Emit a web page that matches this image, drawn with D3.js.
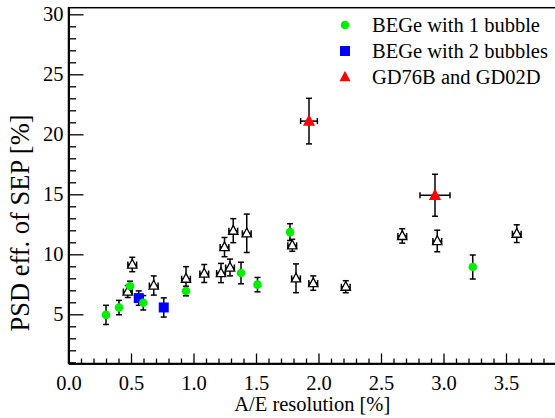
<!DOCTYPE html>
<html><head><meta charset="utf-8">
<script src="https://cdn.jsdelivr.net/npm/d3@7"></script>
<style>
html,body{margin:0;padding:0;background:#fff;}
svg{display:block;}
</style></head>
<body>
<svg id="chart" width="555" height="418" font-family="Liberation Serif"></svg>
<script>
// ---- data ----
const greenX   = [0.30, 0.404, 0.492, 0.598, 0.94, 1.38, 1.512, 1.772, 3.234];
const greenY   = [4.95, 5.56, 7.36, 5.96, 6.94, 8.44, 7.47, 11.85, 8.94];
const greenErr = [0.8, 0.6, 0.4, 0.6, 0.4, 0.9, 0.6, 0.7, 1.0];

const blueX   = [0.562, 0.762];
const blueY   = [6.35, 5.57];
const blueErr = [0.6, 0.8];

const redX    = [1.924, 2.932];
const redY    = [21.1, 14.92];
const redYErr = [1.9, 1.75];
const redXErr = [0.067, 0.12];

const openX   = [0.474, 0.51, 0.682, 0.94, 1.086, 1.22, 1.292, 1.248, 1.318, 1.426, 1.79, 1.82, 1.958, 2.218, 2.67, 2.95, 3.586];
const openY   = [6.9, 9.15, 7.4, 7.97, 8.4, 8.44, 8.9, 10.6, 11.97, 11.75, 10.75, 8.0, 7.6, 7.3, 11.53, 11.11, 11.72];
const openErr = [0.5, 0.6, 0.8, 1.0, 0.75, 0.8, 0.7, 0.8, 1.0, 1.6, 0.5, 1.2, 0.6, 0.5, 0.6, 0.9, 0.74];
const openXErr = 0.035;

const xMajor = [0, 0.5, 1.0, 1.5, 2.0, 2.5, 3.0, 3.5];
const yMajor = [5, 10, 15, 20, 25, 30];
const legendLabels = ["BEGe with 1 bubble", "BEGe with 2 bubbles", "GD76B and GD02D"];
const xTitle = "A/E resolution [%]";
const yTitle = "PSD eff. of SEP [%]";

// ---- layout ----
const FONT = "Liberation Serif";
const svg = d3.select("#chart");
const L = 68.5, R = 556, T = 7.7, B = 363.5;
const x = d3.scaleLinear().domain([0, 3.9]).range([L, R]);
const y = d3.scaleLinear().domain([0.9, 30.55]).range([B, T]);
const FS = 20.5;

// frame
svg.append("rect").attr("x", L).attr("y", T).attr("width", R - L).attr("height", B - T)
  .attr("fill", "none").attr("stroke", "#000").attr("stroke-width", 1.5);

// x axis
const xMinor = d3.range(1, 39).map(i => i / 10).filter(v => Math.abs(v * 2 - Math.round(v * 2)) > 1e-6);
const gx = svg.append("g").attr("transform", `translate(0,${B})`);
gx.call(d3.axisBottom(x).tickValues(xMajor).tickFormat(d3.format(".1f")).tickSizeInner(-10).tickSizeOuter(0).tickPadding(12));
gx.append("g").call(d3.axisBottom(x).tickValues(xMinor).tickFormat("").tickSizeInner(-5).tickSizeOuter(0));
gx.selectAll(".domain").attr("stroke-width", 1.5);
gx.selectAll("line").attr("stroke-width", 1.3);
gx.attr("font-family", FONT).attr("font-size", FS);
gx.selectAll("g").attr("font-family", FONT).attr("font-size", FS);
gx.selectAll("text").attr("font-family", FONT).attr("font-size", FS);

// y axis
const yMinor = d3.range(1, 31).filter(v => v % 5 !== 0);
const gy = svg.append("g").attr("transform", `translate(${L},0)`);
gy.call(d3.axisLeft(y).tickValues(yMajor).tickFormat(d3.format("d")).tickSizeInner(-15).tickSizeOuter(0).tickPadding(5));
gy.append("g").call(d3.axisLeft(y).tickValues(yMinor).tickFormat("").tickSizeInner(-7.5).tickSizeOuter(0));
gy.selectAll(".domain").attr("stroke-width", 1.5);
gy.selectAll("line").attr("stroke-width", 1.3);
gy.attr("font-family", FONT).attr("font-size", FS);
gy.selectAll("g").attr("font-family", FONT).attr("font-size", FS);
gy.selectAll("text").attr("font-family", FONT).attr("font-size", FS);

// titles
svg.append("text").attr("x", (L + R) / 2).attr("y", 411).attr("text-anchor", "middle")
  .attr("font-family", FONT).attr("font-size", FS).text(xTitle);
svg.append("text").attr("transform", `translate(29,${223}) rotate(-90)`)
  .attr("text-anchor", "middle").attr("font-family", FONT).attr("font-size", 26.5).text(yTitle);

// ---- error bars helper ----
const eb = svg.append("g").attr("stroke", "#000").attr("stroke-width", 1.5).attr("fill", "none");
function vErr(xv, yv, e) {
  const cx = x(xv), y1 = y(yv - e), y2 = y(yv + e), c = 3;
  eb.append("line").attr("x1", cx).attr("x2", cx).attr("y1", y1).attr("y2", y2);
  eb.append("line").attr("x1", cx - c).attr("x2", cx + c).attr("y1", y1).attr("y2", y1);
  eb.append("line").attr("x1", cx - c).attr("x2", cx + c).attr("y1", y2).attr("y2", y2);
}
function hErr(xv, yv, e) {
  const cy = y(yv), x1 = x(xv - e), x2 = x(xv + e), c = 3;
  eb.append("line").attr("x1", x1).attr("x2", x2).attr("y1", cy).attr("y2", cy);
  eb.append("line").attr("x1", x1).attr("x2", x1).attr("y1", cy - c).attr("y2", cy + c);
  eb.append("line").attr("x1", x2).attr("x2", x2).attr("y1", cy - c).attr("y2", cy + c);
}

openX.forEach((v, i) => { vErr(v, openY[i], openErr[i]); hErr(v, openY[i], openXErr); });
greenX.forEach((v, i) => vErr(v, greenY[i], greenErr[i]));
blueX.forEach((v, i) => vErr(v, blueY[i], blueErr[i]));
redX.forEach((v, i) => { vErr(v, redY[i], redYErr[i]); hErr(v, redY[i], redXErr[i]); });

// ---- markers ----
const tri = s => `M0,${-s * 0.62}L${s * 0.55},${s * 0.42}L${-s * 0.55},${s * 0.42}Z`;
const mk = svg.append("g");
mk.selectAll(".open").data(openX).join("path")
  .attr("transform", (d, i) => `translate(${x(d)},${y(openY[i])})`)
  .attr("d", tri(8.5)).attr("fill", "#fff").attr("stroke", "#000").attr("stroke-width", 1.3);
mk.selectAll(".blue").data(blueX).join("rect")
  .attr("x", (d) => x(d) - 5).attr("y", (d, i) => y(blueY[i]) - 5)
  .attr("width", 10).attr("height", 10).attr("fill", "#0000ff");
mk.selectAll(".green").data(greenX).join("circle")
  .attr("cx", d => x(d)).attr("cy", (d, i) => y(greenY[i])).attr("r", 4.3).attr("fill", "#00ee00");
mk.selectAll(".red").data(redX).join("path")
  .attr("transform", (d, i) => `translate(${x(d)},${y(redY[i])})`)
  .attr("d", tri(11)).attr("fill", "#ff0000");

// ---- legend ----
const lg = svg.append("g");
const lx = 345, ly = [25, 51, 77];
lg.append("circle").attr("cx", lx).attr("cy", ly[0]).attr("r", 4.3).attr("fill", "#00ee00");
lg.append("rect").attr("x", lx - 5).attr("y", ly[1] - 5).attr("width", 10).attr("height", 10).attr("fill", "#0000ff");
lg.append("path").attr("transform", `translate(${lx},${ly[2]})`).attr("d", tri(10)).attr("fill", "#ff0000");
legendLabels.forEach((t, i) => {
  lg.append("text").attr("x", 372).attr("y", ly[i]).attr("dy", "0.35em")
    .attr("font-family", FONT).attr("font-size", FS).text(t);
});
</script>
</body></html>
